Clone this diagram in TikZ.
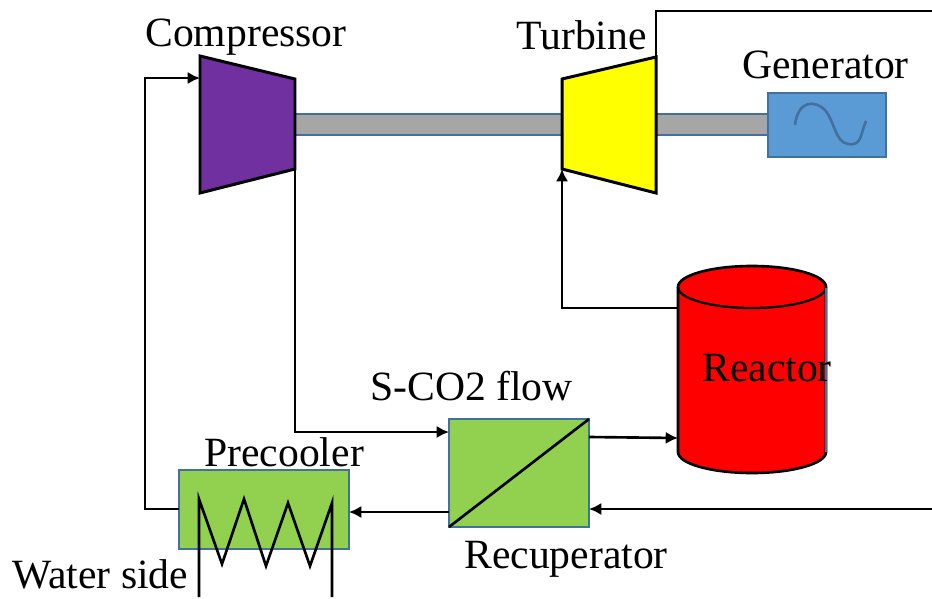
\documentclass[tikz,border=0pt]{standalone}
\usepackage{fontspec}
\setmainfont{Liberation Serif}
\usepackage{xcolor}
\usetikzlibrary{
    arrows.meta,
    calc
}
\definecolor{printPurple}{RGB}{112, 48, 160}
\definecolor{printYellow}{RGB}{255, 255, 0}
\definecolor{printRed}{RGB}{255, 0, 0}
\definecolor{printGreen}{RGB}{146, 208, 80}
\definecolor{printBlue}{RGB}{91, 155, 213}
\definecolor{printEdge}{RGB}{65, 113, 156}
\definecolor{printGray}{RGB}{166, 166, 166}
\tikzset{
    box/.style={draw=printEdge, line width=1.6pt, outer sep=0pt, inner sep=0pt},
    flow/.style={draw=black, line width=1.5pt, -{Latex[length=7pt,width=7pt]}},
    pipe/.style={draw=black, line width=1.5pt},
    machine/.style={draw=black, line width=1.7pt, line join=miter},
    label/.style={anchor=base west, inner sep=0pt, font=\fontsize{23.7}{28}\selectfont}
}

\begin{document}
\begin{tikzpicture}[x=0.02cm, y=-0.02cm]
            \useasboundingbox (0,0) rectangle (932,598);
            \coordinate (compA) at (200,56);
            \coordinate (compB) at (295,79);
            \coordinate (compC) at (295,169);
            \coordinate (compD) at (200,193);
            \coordinate (turbA) at (562,79);
            \coordinate (turbB) at (656,57);
            \coordinate (turbC) at (656,193);
            \coordinate (turbD) at (562,169);
            \coordinate (compIn) at (200,78);
            \coordinate (topEnd) at (932,11);
            \coordinate (backEnd) at (932,509);
            \coordinate (reacIn) at (678,438);
            \coordinate (reacOut) at (678,308);

            % shaft goes under the machines
            \node[box, fill=printGray, minimum width=9.46cm, minimum height=0.42cm] (shaft) at (531.5,124.5) {};
            \node[box, fill=printBlue, minimum width=2.36cm, minimum height=1.28cm] (generator) at (827,125) {};
            \draw[printEdge, line width=1.5pt] (795,125) .. controls (798,100) and (815,100) .. (825,110)
                .. controls (835,122) and (835,142) .. (848,144) .. controls (862,146) and (860,135) .. (866,121);

            \draw[machine, fill=printPurple] (compA)--(compB)--(compC)--(compD)--cycle;
            \draw[machine, fill=printYellow] (turbA)--(turbB)--(turbC)--(turbD)--cycle;

            % reactor
            \draw[line width=1.5pt, fill=printRed] (678,287) -- (678,452) arc[start angle=180, end angle=0, x radius=74, y radius=21]
                -- (826,287) arc[start angle=0, end angle=-180, x radius=74, y radius=21] -- cycle;
            \draw[line width=1.3pt] (678,287) arc[start angle=180, end angle=0, x radius=74, y radius=21];
            \draw[printEdge, line width=1.6pt] (826,288)--(826,452);

            \node[box, fill=printGreen, minimum width=2.8cm, minimum height=2.16cm] (recuperator) at (519,473) {};
            \node[box, fill=printGreen, minimum width=3.4cm, minimum height=1.58cm] (precooler) at (264,509.5) {};
            \draw[pipe] (recuperator.south west)--(recuperator.north east);
            \draw[pipe, line join=miter] (199,597)--(199,499)--(222,564)--(244,499)--(266,566)--(288,503)--(310,566)--(332,503)--(332,597);

            \draw[pipe] (turbB)--(656,11)--(topEnd);
            \draw[flow] (precooler.west |- 0,509)--(145,509)--(145,78)--(compIn);
            \draw[flow] (compC)--(295,432)--(recuperator.west |- 0,432);
            \draw[flow] (recuperator.east |- 0,437)--(reacIn);
            \draw[flow] (reacOut)--(562,308)--(turbD);
            \draw[flow] (backEnd)--(recuperator.east |- backEnd);
            \draw[flow] (recuperator.west |- 0,512)--(precooler.east |- 0,512);

            \node[label] (compLabel) at (145,47) {Compressor};
            \node[label] (turbLabel) at (516,50) {Turbine};
            \node[label] (genLabel) at (742,79) {Generator};
            \node[label] (flowLabel) at (370,400) {S-CO2 flow};
            \node[label] (coolLabel) at (204,466) {Precooler};
            \node[label] (reacLabel) at (702,381) {Reactor};
            \node[label] (recLabel) at (464,568) {Recuperator};
            \node[label] (waterLabel) at (12,588) {Water side};
        \end{tikzpicture}
\end{document}
